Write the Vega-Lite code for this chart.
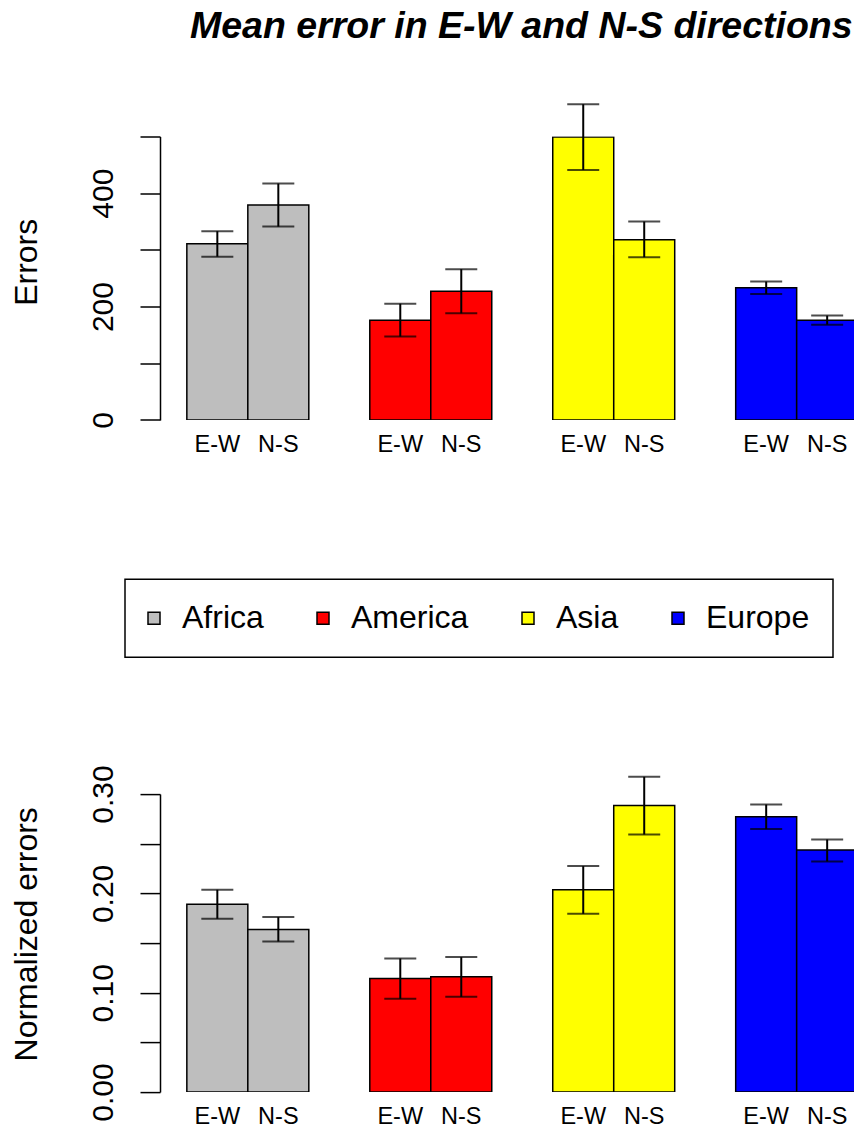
{
  "$schema": "https://vega.github.io/schema/vega-lite/v6.json",
  "padding": {"left": 9, "top": 7.5, "right": 0, "bottom": 0},
  "title": {"text": "Mean error in E-W and N-S directions", "anchor": "start", "frame": "group", "dx": 30, "offset": 58, "fontSize": 37.5, "fontStyle": "italic", "fontWeight": "bold", "font": "Liberation Sans", "color": "black"},
  "datasets": {
    "errors": [
      {"region": "Africa", "direction": "E-W", "value": 311, "lo": 288, "hi": 333},
      {"region": "Africa", "direction": "N-S", "value": 379, "lo": 341, "hi": 417},
      {"region": "America", "direction": "E-W", "value": 176, "lo": 147, "hi": 205},
      {"region": "America", "direction": "N-S", "value": 227, "lo": 188, "hi": 266},
      {"region": "Asia", "direction": "E-W", "value": 499, "lo": 441, "hi": 557},
      {"region": "Asia", "direction": "N-S", "value": 318, "lo": 287, "hi": 350},
      {"region": "Europe", "direction": "E-W", "value": 233, "lo": 222, "hi": 244},
      {"region": "Europe", "direction": "N-S", "value": 176, "lo": 168, "hi": 184}
    ],
    "normalized": [
      {"region": "Africa", "direction": "E-W", "value": 0.189, "lo": 0.1745, "hi": 0.2037},
      {"region": "Africa", "direction": "N-S", "value": 0.1637, "lo": 0.1516, "hi": 0.1762},
      {"region": "America", "direction": "E-W", "value": 0.1144, "lo": 0.0939, "hi": 0.1345},
      {"region": "America", "direction": "N-S", "value": 0.1161, "lo": 0.0959, "hi": 0.1359},
      {"region": "Asia", "direction": "E-W", "value": 0.2037, "lo": 0.1795, "hi": 0.2275},
      {"region": "Asia", "direction": "N-S", "value": 0.2885, "lo": 0.2593, "hi": 0.3174},
      {"region": "Europe", "direction": "E-W", "value": 0.2772, "lo": 0.2648, "hi": 0.2895},
      {"region": "Europe", "direction": "N-S", "value": 0.2436, "lo": 0.2322, "hi": 0.2543}
    ]
  },
  "bounds": "flush",
  "spacing": 373.6,
  "vconcat": [
    {
      "width": 694,
      "height": 283.4,
      "data": {"name": "errors"},
      "encoding": {
        "x": {"field": "region", "type": "nominal", "axis": null, "scale": {"domain": ["Africa", "America", "Asia", "Europe"], "range": [0, 724.5], "paddingInner": 0.3333, "paddingOuter": 0.1467}},
        "xOffset": {"field": "direction", "type": "nominal", "scale": {"domain": ["E-W", "N-S"], "paddingInner": 0, "paddingOuter": 0}}
      },
      "layer": [
        {
          "mark": {"type": "bar", "stroke": "black", "strokeWidth": 1.5, "clip": true},
          "encoding": {
            "y": {"field": "value", "type": "quantitative", "scale": {"domain": [0, 500], "nice": false},
              "axis": {"title": "Errors", "values": [0, 100, 200, 300, 400, 500], "labelExpr": "datum.value % 200 == 0 ? datum.label : ''", "titleY": 125.3}},
            "fill": {"field": "region", "type": "nominal", "scale": {"domain": ["Africa", "America", "Asia", "Europe"], "range": ["#BEBEBE", "#FF0000", "#FFFF00", "#0000FF"]},
              "legend": {"symbolStrokeColor": "black", "symbolStrokeWidth": 1.5}}
          }
        },
        {
          "mark": {"type": "rule", "color": "black", "strokeWidth": 2, "clip": false},
          "encoding": {"y": {"field": "lo", "type": "quantitative"}, "y2": {"field": "hi"}}
        },
        {
          "mark": {"type": "tick", "color": "black", "thickness": 2, "size": 32, "orient": "horizontal", "clip": false},
          "encoding": {"y": {"field": "hi", "type": "quantitative"}}
        },
        {
          "mark": {"type": "tick", "color": "black", "thickness": 2, "size": 32, "orient": "horizontal", "clip": false},
          "encoding": {"y": {"field": "lo", "type": "quantitative"}}
        },
        {
          "mark": {"type": "text", "fontSize": 23.5, "font": "Liberation Sans", "baseline": "middle", "dy": 25, "color": "black"},
          "encoding": {"y": {"datum": 0}, "text": {"field": "direction"}}
        }
      ]
    },
    {
      "width": 694,
      "height": 298,
      "data": {"name": "normalized"},
      "encoding": {
        "x": {"field": "region", "type": "nominal", "axis": null, "scale": {"domain": ["Africa", "America", "Asia", "Europe"], "range": [0, 724.5], "paddingInner": 0.3333, "paddingOuter": 0.1467}},
        "xOffset": {"field": "direction", "type": "nominal", "scale": {"domain": ["E-W", "N-S"], "paddingInner": 0, "paddingOuter": 0}}
      },
      "layer": [
        {
          "mark": {"type": "bar", "stroke": "black", "strokeWidth": 1.5, "clip": true},
          "encoding": {
            "y": {"field": "value", "type": "quantitative", "scale": {"domain": [0, 0.3], "nice": false},
              "axis": {"title": "Normalized errors", "values": [0, 0.05, 0.1, 0.15, 0.2, 0.25, 0.3], "labelExpr": "round(datum.value * 100) % 10 == 0 ? format(datum.value, '.2f') : ''", "titleY": 139.7}},
            "fill": {"field": "region", "type": "nominal", "scale": {"domain": ["Africa", "America", "Asia", "Europe"], "range": ["#BEBEBE", "#FF0000", "#FFFF00", "#0000FF"]},
              "legend": {"symbolStrokeColor": "black", "symbolStrokeWidth": 1.5}}
          }
        },
        {
          "mark": {"type": "rule", "color": "black", "strokeWidth": 2, "clip": false},
          "encoding": {"y": {"field": "lo", "type": "quantitative"}, "y2": {"field": "hi"}}
        },
        {
          "mark": {"type": "tick", "color": "black", "thickness": 2, "size": 32, "orient": "horizontal", "clip": false},
          "encoding": {"y": {"field": "hi", "type": "quantitative"}}
        },
        {
          "mark": {"type": "tick", "color": "black", "thickness": 2, "size": 32, "orient": "horizontal", "clip": false},
          "encoding": {"y": {"field": "lo", "type": "quantitative"}}
        },
        {
          "mark": {"type": "text", "fontSize": 23.5, "font": "Liberation Sans", "baseline": "middle", "dy": 25, "color": "black"},
          "encoding": {"y": {"datum": 0}, "text": {"field": "direction"}}
        }
      ]
    }
  ],
  "config": {
    "view": {"stroke": null},
    "axis": {"grid": false, "domainColor": "black", "domainWidth": 1.5, "tickColor": "black", "tickWidth": 1.5, "tickSize": 20, "labelAngle": -90, "labelFontSize": 30, "labelFont": "Liberation Sans", "labelColor": "black", "labelPadding": 22, "labelFlush": false, "labelOverlap": false, "titleFontSize": 32, "titleFont": "Liberation Sans", "titleFontWeight": "normal", "titleColor": "black", "titlePadding": 45},
    "legend": {"orient": "none", "legendX": -35, "legendY": 442.7, "direction": "horizontal", "title": null, "symbolType": "square", "symbolSize": 144, "symbolOffset": -10, "labelFontSize": 32, "labelFont": "Liberation Sans", "labelColor": "black", "labelOffset": 12, "columnPadding": 50, "padding": 23, "strokeColor": "black", "strokeWidth": 1.5, "cornerRadius": 0}
  }
}
